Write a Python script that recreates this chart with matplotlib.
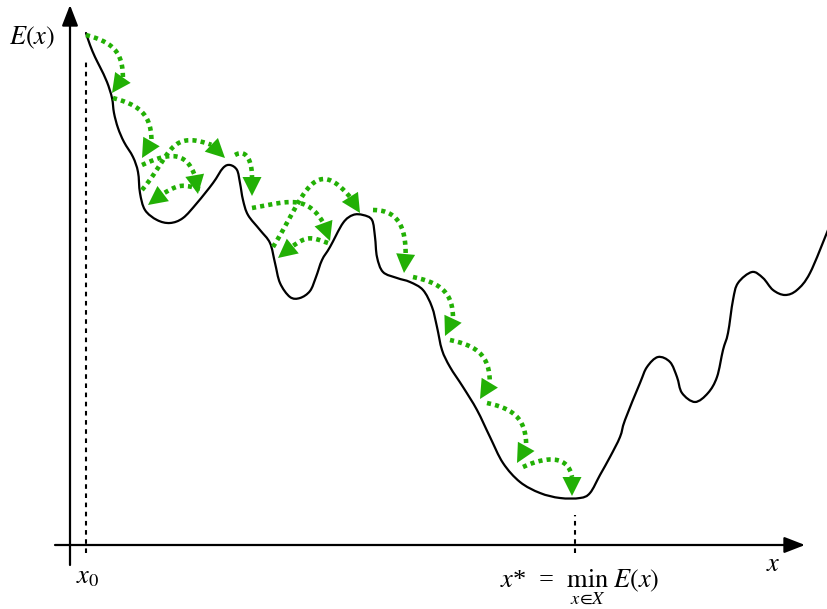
import numpy as np
import matplotlib
matplotlib.use("Agg")
import matplotlib.pyplot as plt
from matplotlib.path import Path
from matplotlib.patches import PathPatch, Polygon

plt.rcParams['mathtext.fontset'] = 'stix'
plt.rcParams['font.family'] = ['Liberation Serif', 'DejaVu Serif']

# energy landscape (origin at the axes crossing)
x_px = [86, 90, 95, 100, 107, 112, 114, 118, 124, 133, 138, 140, 145, 157, 170, 183, 197, 213,
        223, 230, 237, 240, 243, 248, 260, 270, 275, 280, 290, 300, 310, 316, 322, 330,
        343, 353, 363, 372, 375, 377, 383, 397, 410, 423, 432, 437, 442, 450, 463, 477,
        490, 503, 520, 540, 560, 580, 590, 600, 610, 620, 625, 640, 647, 658, 670, 677,
        682, 695, 708, 717, 723, 728, 733, 738, 752, 763, 773, 785, 797, 810, 828]
E_px = [33, 45, 57, 67, 82, 98, 113, 128, 142, 157, 172, 193, 210, 220, 223, 218, 203, 183,
        168, 165, 170, 183, 200, 215, 230, 243, 263, 283, 297, 298, 291, 277, 260, 247,
        223, 215, 215, 220, 237, 257, 272, 278, 282, 290, 307, 327, 350, 367, 387, 410,
        437, 463, 482, 493, 498, 498, 493, 475, 457, 437, 420, 383, 367, 357, 362, 377,
        393, 402, 393, 377, 350, 333, 300, 283, 272, 278, 290, 295, 290, 273, 230]
x_vals = np.array(x_px) - 70
E_vals = 545 - np.array(E_px)

# hops of the search: start, arrow tip, head direction, leaving / arriving
# direction of the dotted arc (deg) and its looseness
hop_start = [(86, 35), (113, 98), (142, 190), (142, 165), (200, 189), (235, 155), (252, 208),
             (328, 243), (273, 247), (373, 210), (413, 277), (450, 340), (487, 403), (523, 467)]
hop_tip = [(112, 93), (142, 158), (225, 158), (198, 194), (148, 205), (252, 196), (330, 241),
           (278, 258), (360, 213), (404, 273), (445, 336), (480, 399), (517, 463), (572, 496)]
hop_head = [235, 240, 316, 280, 217, 270, 290, 219, 302, 265, 245, 239, 241, 270]
hop_out = [-15, -15, 50, 25, 165, 30, 10, 160, 58, 0, -12, -12, -12, 25]
hop_in = [-90, -90, -20, -70, 210, -90, -60, 215, -50, -90, -90, -90, -90, -80]
hop_loose = [1.2, 1.2, 1.4, 1.3, 1.3, 1.3, 1.2, 1.3, 1.6, 1.2, 1.2, 1.2, 1.2, 1.2]

x0 = 86 - 70
x_star = 575 - 70

green = '#22b005'

fig = plt.figure(figsize=(8.28, 6.09), dpi=100)
ax = fig.add_axes([0, 0, 1, 1])
ax.set_xlim(-70, 758)
ax.set_ylim(-64, 545)
ax.axis('off')

# smooth curve through the read points (Catmull-Rom as cubic Bezier)
pts = np.column_stack([x_vals, E_vals]).astype(float)
verts = [pts[0]]
codes = [Path.MOVETO]
for i in range(len(pts) - 1):
    p0 = pts[max(i - 1, 0)]
    p1 = pts[i]
    p2 = pts[i + 1]
    p3 = pts[min(i + 2, len(pts) - 1)]
    verts += [p1 + (p2 - p0) / 6, p2 - (p3 - p1) / 6, p2]
    codes += [Path.CURVE4] * 3
ax.add_patch(PathPatch(Path(verts, codes), fill=False, lw=1.6, color='black',
                       capstyle='round', joinstyle='round'))

# axes with arrows
ax.annotate('', xy=(0, 540), xytext=(0, -20),
            arrowprops=dict(arrowstyle='-|>,head_length=0.9,head_width=0.35',
                            lw=1.6, color='black', mutation_scale=14, shrinkA=0, shrinkB=0))
ax.annotate('', xy=(735, 0), xytext=(-15, 0),
            arrowprops=dict(arrowstyle='-|>,head_length=0.9,head_width=0.35',
                            lw=1.6, color='black', mutation_scale=14, shrinkA=0, shrinkB=0))

# dashed markers
ax.plot([x0, x0], [-8, 485], ls=(0, (2.2, 2.2)), color='black', lw=1.5)
ax.plot([x_star, x_star], [-8, 30], ls=(0, (2.2, 2.2)), color='black', lw=1.5)


def unit(deg):
    return np.array([np.cos(np.radians(deg)), np.sin(np.radians(deg))])


# hops: cubic arc (out/in angles like tikz) drawn dotted, with a solid head
head_len, head_half = 19.0, 9.5
t = np.linspace(0, 1, 300)[:, None]
for (sx, sy), (tx, ty), hd, a, b, lo in zip(hop_start, hop_tip, hop_head,
                                            hop_out, hop_in, hop_loose):
    p0 = np.array([sx - 70, 545 - sy], float)
    tip = np.array([tx - 70, 545 - ty], float)
    d = unit(hd)
    base = tip - d * head_len
    k = 0.3915 * np.hypot(*(base - p0)) * lo
    p1 = p0 + k * unit(a)
    p2 = base - k * unit(b)
    curve = (1 - t) ** 3 * p0 + 3 * (1 - t) ** 2 * t * p1 + 3 * (1 - t) * t ** 2 * p2 + t ** 3 * base
    ax.plot(curve[:, 0], curve[:, 1], color=green, lw=3.3, ls=(0, (0.9, 0.9)),
            dash_capstyle='butt', zorder=3)
    n = np.array([-d[1], d[0]])
    ax.add_patch(Polygon([tip, base + n * head_half, base - n * head_half],
                         closed=True, color=green, lw=0, zorder=4))

# labels
ax.text(-38, 507, '$E(x)$', fontsize=19, ha='center', va='center')
ax.text(x0 + 2, -33, '$x_0$', fontsize=19, ha='center', va='center')
ax.text(703, -20, '$x$', fontsize=19, ha='center', va='center')
ax.text(x_star + 5, -42, r'$x$*  =  $\min_{x\in X}\;E(x)$', fontsize=19,
        ha='center', va='baseline')

fig.savefig('out.png', dpi=100)
